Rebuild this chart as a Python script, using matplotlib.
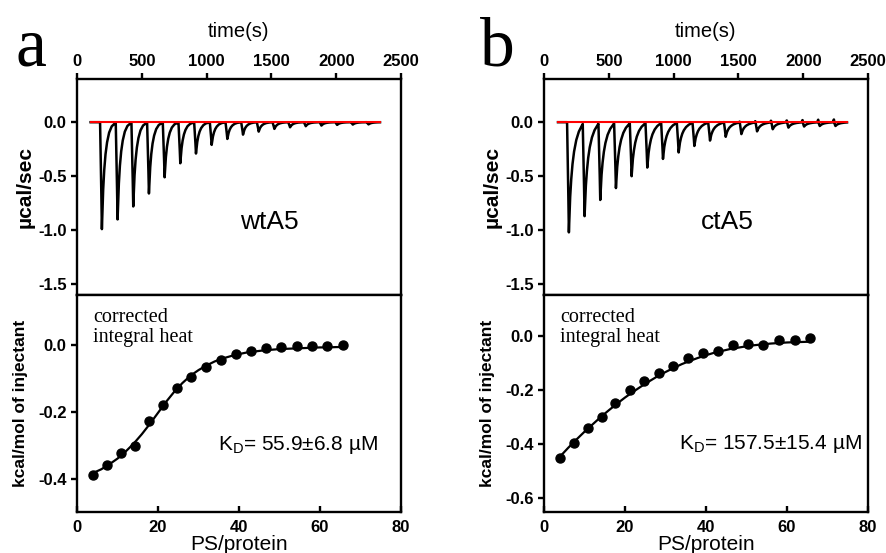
import numpy as np
import matplotlib
matplotlib.use("Agg")
import matplotlib.pyplot as plt

plt.rcParams['font.family'] = ['Liberation Sans', 'DejaVu Sans']

# injection schedule (s) and raw peak depths (ucal/sec)
inj_times = [192, 313, 434, 555, 676, 797, 918, 1039, 1160, 1281, 1402, 1523,
             1644, 1765, 1886, 2007, 2128, 2249]
wt_depth = [0.99, 0.90, 0.78, 0.66, 0.51, 0.38, 0.29, 0.21, 0.155, 0.115, 0.087,
            0.062, 0.047, 0.037, 0.031, 0.025, 0.022, 0.020]
ct_depth = [1.02, 0.87, 0.72, 0.61, 0.50, 0.42, 0.34, 0.28, 0.22, 0.17, 0.135,
            0.11, 0.085, 0.065, 0.05, 0.04, 0.035, 0.035]
ct_up = [0, 0, 0, 0, 0, 0, 0, 0, 0, 0, 0.005, 0.01, 0.015, 0.02, 0.022, 0.025,
         0.028, 0.03]
wt_span = [105, 2338]
ct_span = [108, 2338]

# shape of one injection peak (seconds from tip, fraction of depth)
peak_dt = [-14, -7, 0, 8, 16, 26, 38, 55, 75, 100, 115]
wt_shape = [0, 0.45, 1.0, 0.68, 0.48, 0.32, 0.20, 0.10, 0.04, 0.01, 0]
ct_shape = [0, 0.45, 1.0, 0.72, 0.55, 0.40, 0.28, 0.17, 0.09, 0.03, 0]
up_dt = [-20, -12, -6]
up_shape = [0, 1, 0]

# integrated heats
wt_ratio = [4.0, 7.4, 10.9, 14.3, 17.8, 21.2, 24.7, 28.2, 31.9, 35.5, 39.2, 43.0,
            46.6, 50.4, 54.2, 58.0, 61.8, 65.7]
wt_heat = [-0.388, -0.358, -0.322, -0.303, -0.227, -0.179, -0.129, -0.096, -0.066,
           -0.045, -0.028, -0.017, -0.010, -0.007, -0.002, -0.002, -0.002, 0.0]
ct_ratio = [3.95, 7.3, 10.8, 14.2, 17.6, 21.2, 24.7, 28.3, 31.9, 35.6, 39.2, 42.9,
            46.7, 50.4, 54.1, 58.0, 61.9, 65.8]
ct_heat = [-0.451, -0.395, -0.342, -0.299, -0.247, -0.202, -0.167, -0.137, -0.111,
           -0.083, -0.064, -0.056, -0.036, -0.032, -0.035, -0.017, -0.015, -0.010]

# fitted curves, read at every 2 units of PS/protein
fit_x = list(range(4, 68, 2))
wt_fit = [-0.383, -0.372, -0.357, -0.340, -0.319, -0.295, -0.267, -0.236, -0.203,
          -0.170, -0.140, -0.114, -0.092, -0.075, -0.061, -0.049, -0.040, -0.033,
          -0.027, -0.022, -0.019, -0.016, -0.014, -0.012, -0.011, -0.010, -0.009,
          -0.008, -0.007, -0.007, -0.006, -0.006]
ct_fit = [-0.445, -0.413, -0.383, -0.354, -0.327, -0.300, -0.275, -0.251, -0.228,
          -0.207, -0.187, -0.168, -0.150, -0.134, -0.119, -0.105, -0.093, -0.082,
          -0.072, -0.063, -0.056, -0.049, -0.044, -0.039, -0.035, -0.032, -0.029,
          -0.027, -0.025, -0.024, -0.023, -0.022]


def trace(span, depth, shape, up=None):
    t = np.arange(span[0], span[1] + 1, 1.0)
    y = np.zeros_like(t)
    for i, t0 in enumerate(inj_times):
        y -= depth[i] * np.interp(t - t0, peak_dt, shape, left=0, right=0)
        if up is not None:
            y += up[i] * np.interp(t - t0, up_dt, up_shape, left=0, right=0)
    return t, y


def style(ax):
    for s in ax.spines.values():
        s.set_linewidth(1.7)
    ax.tick_params(width=1.7, length=4, labelsize=12)
    for lab in ax.get_xticklabels() + ax.get_yticklabels():
        lab.set_fontweight('bold')


fig = plt.figure(figsize=(8.87, 5.53), dpi=100)

panels = [
    (77, 'a', 15, 'wtA5', (0.593, 0.338), wt_span, wt_depth, wt_shape, None,
     wt_ratio, wt_heat, wt_fit, (-0.5, 0.15), [0.0, -0.2, -0.4],
     'K$_\\mathregular{D}$= 55.9±6.8 µM', (0.435, 0.31)),
    (544, 'b', 480, 'ctA5', (0.565, 0.338), ct_span, ct_depth, ct_shape, ct_up,
     ct_ratio, ct_heat, ct_fit, (-0.65, 0.15), [0.0, -0.2, -0.4, -0.6],
     'K$_\\mathregular{D}$= 157.5±15.4 µM', (0.417, 0.313)),
]

W, H = 887.0, 553.0
for (x0, letter, lx, name, npos, span, depth, shape, up, ratio, heat, fit,
     ylim, yt, kd, kpos) in panels:
    ax1 = fig.add_axes([x0 / W, 1 - 295 / H, 324 / W, 216 / H])
    ax2 = fig.add_axes([x0 / W, 1 - 512 / H, 324 / W, 217 / H])

    t, y = trace(span, depth, shape, up)
    ax1.plot(t, y, color='black', lw=1.8)
    ax1.plot(span, [0, 0], color='red', lw=1.5)
    ax1.set_xlim(0, 2500)
    ax1.set_ylim(-1.6, 0.4)
    ax1.set_xticks([0, 500, 1000, 1500, 2000, 2500])
    ax1.set_yticks([0.0, -0.5, -1.0, -1.5])
    ax1.set_yticklabels(['0.0', '-0.5', '-1.0', '-1.5'])
    ax1.xaxis.tick_top()
    ax1.tick_params(axis='both', direction='out')
    ax1.xaxis.set_label_position('top')
    ax1.set_xlabel('time(s)', fontsize=14.5, va='center')
    ax1.xaxis.set_label_coords(0.5, 1.218)
    ax1.set_ylabel('µcal/sec', fontsize=15, fontweight='bold', va='center')
    ax1.yaxis.set_label_coords(-0.16, 0.5)
    ax1.text(npos[0], npos[1], name, transform=ax1.transAxes, fontsize=19,
             ha='center', va='center')
    style(ax1)

    ax2.plot(fit_x, fit, color='black', lw=1.6)
    ax2.plot(ratio, heat, 'o', color='black', ms=6.5)
    ax2.set_xlim(0, 80)
    ax2.set_ylim(*ylim)
    ax2.set_xticks([0, 20, 40, 60, 80])
    ax2.set_yticks(yt)
    ax2.set_yticklabels(['%.1f' % v for v in yt])
    ax2.tick_params(axis='x', direction='in', pad=6)
    ax2.tick_params(axis='y', direction='out')
    ax2.set_xlabel('PS/protein', fontsize=15, va='center')
    ax2.xaxis.set_label_coords(0.5, -0.152)
    ax2.set_ylabel('kcal/mol of injectant', fontsize=12.5, fontweight='bold',
                   va='center')
    ax2.yaxis.set_label_coords(-0.175, 0.5)
    ax2.text(0.05, 0.94, 'corrected\nintegral heat', transform=ax2.transAxes,
             fontsize=14.5, family='Liberation Serif', va='top', ha='left',
             linespacing=1.1)
    ax2.text(kpos[0], kpos[1], kd, transform=ax2.transAxes, fontsize=15,
             ha='left', va='center')
    style(ax2)

    fig.text(lx / W, 1 - 65 / H, letter, fontsize=50, family='Liberation Serif',
             va='baseline', ha='left')

fig.savefig('out.png', dpi=100)
